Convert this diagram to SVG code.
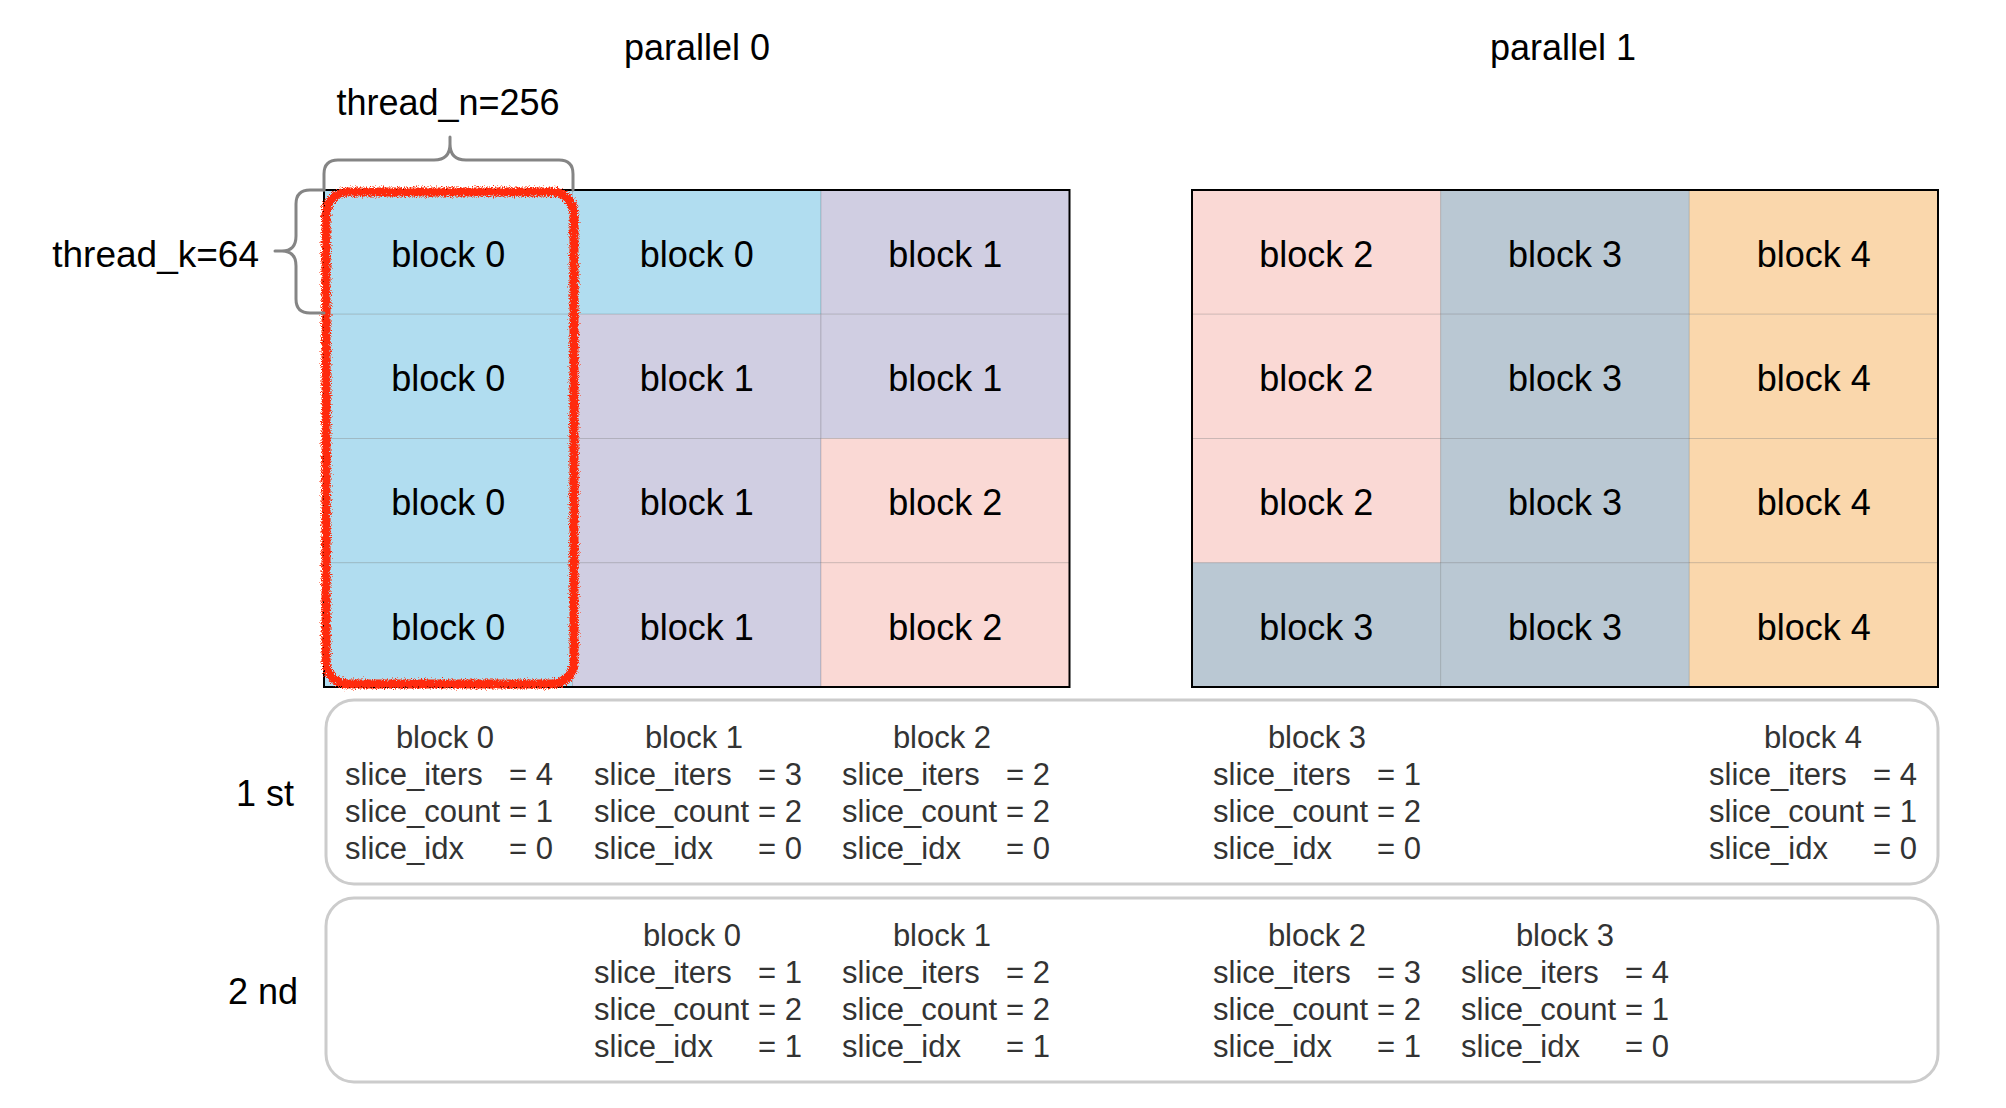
<svg xmlns="http://www.w3.org/2000/svg" width="2006" height="1108" viewBox="0 0 2006 1108">
<defs>
<style>
text{font-family:"Liberation Sans",Arial,Helvetica,sans-serif;}
.cell{stroke:rgba(0,0,0,0.13);stroke-width:1;}
.b0{fill:#b1ddf0;}
.b1{fill:#d0cee2;}
.b2{fill:#fad9d5;}
.b3{fill:#bac8d3;}
.b4{fill:#fad7ac;}
.ct{font-size:36px;fill:#000;text-anchor:middle;}
.hd{font-size:36px;fill:#000;text-anchor:middle;}
.lb{font-size:36px;fill:#000;}
.frame{fill:none;stroke:#000;stroke-width:2;}
.box{fill:#fff;stroke:#cccccc;stroke-width:3;}
.info{font-size:31px;fill:#333;}
.ttl{font-size:31px;fill:#333;text-anchor:middle;}
.brace{fill:none;stroke:#858585;stroke-width:3;stroke-linecap:round;stroke-linejoin:round;}
</style>
<filter id="rough" x="-10%" y="-10%" width="120%" height="120%">
<feTurbulence type="fractalNoise" baseFrequency="0.9" numOctaves="2" seed="4" result="n"/>
<feDisplacementMap in="SourceGraphic" in2="n" scale="8" xChannelSelector="R" yChannelSelector="G"/>
</filter>
</defs>
<rect width="2006" height="1108" fill="#fff"/>

<!-- headers -->
<g id="headers">
<text class="hd" x="697" y="60">parallel 0</text>
<text class="hd" x="1563" y="60">parallel 1</text>
<text class="hd" x="448" y="115">thread_n=256</text>
<text class="lb" x="259" y="267" text-anchor="end" style="font-size:37px">thread_k=64</text>
<text class="lb" x="265" y="806" text-anchor="middle">1 st</text>
<text class="lb" x="263" y="1004" text-anchor="middle">2 nd</text>
</g>

<!-- grid parallel 0 -->
<g id="grid0">
<g id="p0-r0c0"><rect class="cell b0" x="324" y="190" width="248.5" height="124.25"/><text class="ct" x="448.25" y="267">block 0</text></g>
<g id="p0-r0c1"><rect class="cell b0" x="572.5" y="190" width="248.5" height="124.25"/><text class="ct" x="696.75" y="267">block 0</text></g>
<g id="p0-r0c2"><rect class="cell b1" x="821" y="190" width="248.5" height="124.25"/><text class="ct" x="945.25" y="267">block 1</text></g>
<g id="p0-r1c0"><rect class="cell b0" x="324" y="314.25" width="248.5" height="124.25"/><text class="ct" x="448.25" y="391">block 0</text></g>
<g id="p0-r1c1"><rect class="cell b1" x="572.5" y="314.25" width="248.5" height="124.25"/><text class="ct" x="696.75" y="391">block 1</text></g>
<g id="p0-r1c2"><rect class="cell b1" x="821" y="314.25" width="248.5" height="124.25"/><text class="ct" x="945.25" y="391">block 1</text></g>
<g id="p0-r2c0"><rect class="cell b0" x="324" y="438.5" width="248.5" height="124.25"/><text class="ct" x="448.25" y="515">block 0</text></g>
<g id="p0-r2c1"><rect class="cell b1" x="572.5" y="438.5" width="248.5" height="124.25"/><text class="ct" x="696.75" y="515">block 1</text></g>
<g id="p0-r2c2"><rect class="cell b2" x="821" y="438.5" width="248.5" height="124.25"/><text class="ct" x="945.25" y="515">block 2</text></g>
<g id="p0-r3c0"><rect class="cell b0" x="324" y="562.75" width="248.5" height="124.25"/><text class="ct" x="448.25" y="640">block 0</text></g>
<g id="p0-r3c1"><rect class="cell b1" x="572.5" y="562.75" width="248.5" height="124.25"/><text class="ct" x="696.75" y="640">block 1</text></g>
<g id="p0-r3c2"><rect class="cell b2" x="821" y="562.75" width="248.5" height="124.25"/><text class="ct" x="945.25" y="640">block 2</text></g>
<rect class="frame" x="324" y="190" width="745.5" height="497"/>
</g>

<!-- grid parallel 1 -->
<g id="grid1">
<g id="p1-r0c0"><rect class="cell b2" x="1192" y="190" width="248.67" height="124.25"/><text class="ct" x="1316.3" y="267">block 2</text></g>
<g id="p1-r0c1"><rect class="cell b3" x="1440.67" y="190" width="248.67" height="124.25"/><text class="ct" x="1565" y="267">block 3</text></g>
<g id="p1-r0c2"><rect class="cell b4" x="1689.33" y="190" width="248.67" height="124.25"/><text class="ct" x="1813.7" y="267">block 4</text></g>
<g id="p1-r1c0"><rect class="cell b2" x="1192" y="314.25" width="248.67" height="124.25"/><text class="ct" x="1316.3" y="391">block 2</text></g>
<g id="p1-r1c1"><rect class="cell b3" x="1440.67" y="314.25" width="248.67" height="124.25"/><text class="ct" x="1565" y="391">block 3</text></g>
<g id="p1-r1c2"><rect class="cell b4" x="1689.33" y="314.25" width="248.67" height="124.25"/><text class="ct" x="1813.7" y="391">block 4</text></g>
<g id="p1-r2c0"><rect class="cell b2" x="1192" y="438.5" width="248.67" height="124.25"/><text class="ct" x="1316.3" y="515">block 2</text></g>
<g id="p1-r2c1"><rect class="cell b3" x="1440.67" y="438.5" width="248.67" height="124.25"/><text class="ct" x="1565" y="515">block 3</text></g>
<g id="p1-r2c2"><rect class="cell b4" x="1689.33" y="438.5" width="248.67" height="124.25"/><text class="ct" x="1813.7" y="515">block 4</text></g>
<g id="p1-r3c0"><rect class="cell b3" x="1192" y="562.75" width="248.67" height="124.25"/><text class="ct" x="1316.3" y="640">block 3</text></g>
<g id="p1-r3c1"><rect class="cell b3" x="1440.67" y="562.75" width="248.67" height="124.25"/><text class="ct" x="1565" y="640">block 3</text></g>
<g id="p1-r3c2"><rect class="cell b4" x="1689.33" y="562.75" width="248.67" height="124.25"/><text class="ct" x="1813.7" y="640">block 4</text></g>
<rect class="frame" x="1192" y="190" width="746" height="497"/>
</g>

<!-- highlight -->
<g id="highlight">
<rect x="326" y="192" width="248" height="492" rx="22" ry="22" fill="none" stroke="#ff2a0a" stroke-width="9" filter="url(#rough)"/>
</g>

<!-- braces -->
<g id="braces">
<path class="brace" d="M324,190 V174 Q324,160 338,160 H434 Q450,160 450,144 V137 M450,144 Q450,160 466,160 H559 Q573,160 573,174 V190"/>
<path class="brace" d="M324,190 H310 Q296,190 296,204 V236 Q296,251 282,251 H275 M282,251 Q296,251 296,266 V299 Q296,313 310,313 H324"/>
</g>

<!-- first round -->
<g id="round1">
<rect class="box" x="326" y="700" width="1612" height="184" rx="28" ry="28"/>
<g id="r1-block0">
<text class="ttl" x="445" y="748">block 0</text>
<text class="info"><tspan x="345" y="785">slice_iters</tspan><tspan x="509">= 4</tspan></text>
<text class="info"><tspan x="345" y="822">slice_count</tspan><tspan x="509">= 1</tspan></text>
<text class="info"><tspan x="345" y="859">slice_idx</tspan><tspan x="509">= 0</tspan></text>
</g>
<g id="r1-block1">
<text class="ttl" x="694" y="748">block 1</text>
<text class="info"><tspan x="594" y="785">slice_iters</tspan><tspan x="758">= 3</tspan></text>
<text class="info"><tspan x="594" y="822">slice_count</tspan><tspan x="758">= 2</tspan></text>
<text class="info"><tspan x="594" y="859">slice_idx</tspan><tspan x="758">= 0</tspan></text>
</g>
<g id="r1-block2">
<text class="ttl" x="942" y="748">block 2</text>
<text class="info"><tspan x="842" y="785">slice_iters</tspan><tspan x="1006">= 2</tspan></text>
<text class="info"><tspan x="842" y="822">slice_count</tspan><tspan x="1006">= 2</tspan></text>
<text class="info"><tspan x="842" y="859">slice_idx</tspan><tspan x="1006">= 0</tspan></text>
</g>
<g id="r1-block3">
<text class="ttl" x="1317" y="748">block 3</text>
<text class="info"><tspan x="1213" y="785">slice_iters</tspan><tspan x="1377">= 1</tspan></text>
<text class="info"><tspan x="1213" y="822">slice_count</tspan><tspan x="1377">= 2</tspan></text>
<text class="info"><tspan x="1213" y="859">slice_idx</tspan><tspan x="1377">= 0</tspan></text>
</g>
<g id="r1-block4">
<text class="ttl" x="1813" y="748">block 4</text>
<text class="info"><tspan x="1709" y="785">slice_iters</tspan><tspan x="1873">= 4</tspan></text>
<text class="info"><tspan x="1709" y="822">slice_count</tspan><tspan x="1873">= 1</tspan></text>
<text class="info"><tspan x="1709" y="859">slice_idx</tspan><tspan x="1873">= 0</tspan></text>
</g>
</g>

<!-- second round -->
<g id="round2">
<rect class="box" x="326" y="898" width="1612" height="184" rx="28" ry="28"/>
<g id="r2-block0">
<text class="ttl" x="692" y="946">block 0</text>
<text class="info"><tspan x="594" y="983">slice_iters</tspan><tspan x="758">= 1</tspan></text>
<text class="info"><tspan x="594" y="1020">slice_count</tspan><tspan x="758">= 2</tspan></text>
<text class="info"><tspan x="594" y="1057">slice_idx</tspan><tspan x="758">= 1</tspan></text>
</g>
<g id="r2-block1">
<text class="ttl" x="942" y="946">block 1</text>
<text class="info"><tspan x="842" y="983">slice_iters</tspan><tspan x="1006">= 2</tspan></text>
<text class="info"><tspan x="842" y="1020">slice_count</tspan><tspan x="1006">= 2</tspan></text>
<text class="info"><tspan x="842" y="1057">slice_idx</tspan><tspan x="1006">= 1</tspan></text>
</g>
<g id="r2-block2">
<text class="ttl" x="1317" y="946">block 2</text>
<text class="info"><tspan x="1213" y="983">slice_iters</tspan><tspan x="1377">= 3</tspan></text>
<text class="info"><tspan x="1213" y="1020">slice_count</tspan><tspan x="1377">= 2</tspan></text>
<text class="info"><tspan x="1213" y="1057">slice_idx</tspan><tspan x="1377">= 1</tspan></text>
</g>
<g id="r2-block3">
<text class="ttl" x="1565" y="946">block 3</text>
<text class="info"><tspan x="1461" y="983">slice_iters</tspan><tspan x="1625">= 4</tspan></text>
<text class="info"><tspan x="1461" y="1020">slice_count</tspan><tspan x="1625">= 1</tspan></text>
<text class="info"><tspan x="1461" y="1057">slice_idx</tspan><tspan x="1625">= 0</tspan></text>
</g>
</g>
</svg>
